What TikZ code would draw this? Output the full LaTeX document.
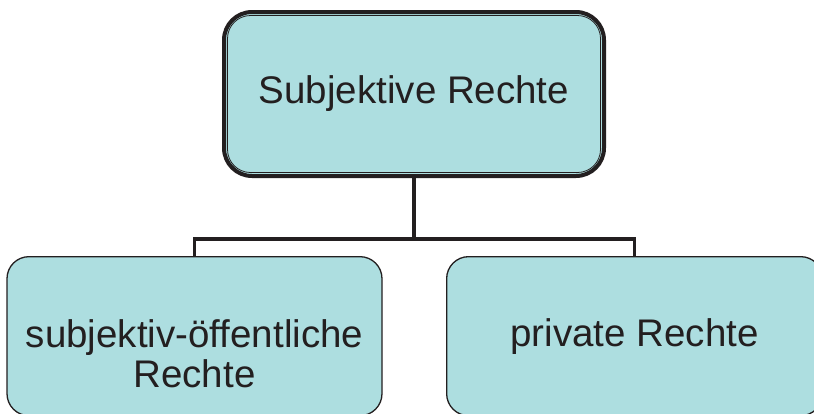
\documentclass[tikz,border=0pt]{standalone}
\usepackage{fontspec}
\setmainfont{Liberation Sans}
\definecolor{kastenfarbe}{RGB}{173,222,224}
\definecolor{druckschwarz}{RGB}{35,31,32}
\tikzset{
  kasten/.style={draw=druckschwarz,fill=kastenfarbe,rounded corners=22pt,line width=1.3pt,inner sep=0pt},
  verbinder/.style={draw=druckschwarz,line width=3.6pt},
  schrift/.style={font=\fontsize{38.5}{40}\selectfont,text=druckschwarz,align=center,inner sep=0pt}
}

\begin{document}
\begin{tikzpicture}[x=1pt,y=1pt]
\useasboundingbox (0,0) rectangle (814,-413);
\clip (0,0) rectangle (814,-413);
%Oberbegriff
\node[kasten,schrift,line width=4pt,rounded corners=28pt,minimum width=380pt,minimum height=164pt] (subj) at (414,-94) {Subjektive Rechte};
\draw[druckschwarz,line width=0.8pt,rounded corners=23pt] ([shift={(5.5pt,-5.5pt)}]subj.north west) rectangle ([shift={(-5.5pt,5.5pt)}]subj.south east);
%Unterbegriffe
\node[kasten,minimum width=375pt,minimum height=159pt,anchor=north] (oeff) at (194.5,-256) {};
\node[schrift,anchor=north] (oefftext) at ([yshift=-63pt]oeff.north) {subjektiv-öffentliche\\Rechte};
\node[kasten,minimum width=376pt,minimum height=159pt,anchor=north west] (priv) at (446,-256) {};
\node[schrift,anchor=base] (privtext) at ([yshift=-90pt]priv.north) {private Rechte};
%Verbindung
\draw[verbinder] (subj.south) -- ++(0,-61) coordinate (gabel);
\draw[verbinder] (oeff.north) |- (gabel) -| (priv.north);
\end{tikzpicture}
\end{document}
